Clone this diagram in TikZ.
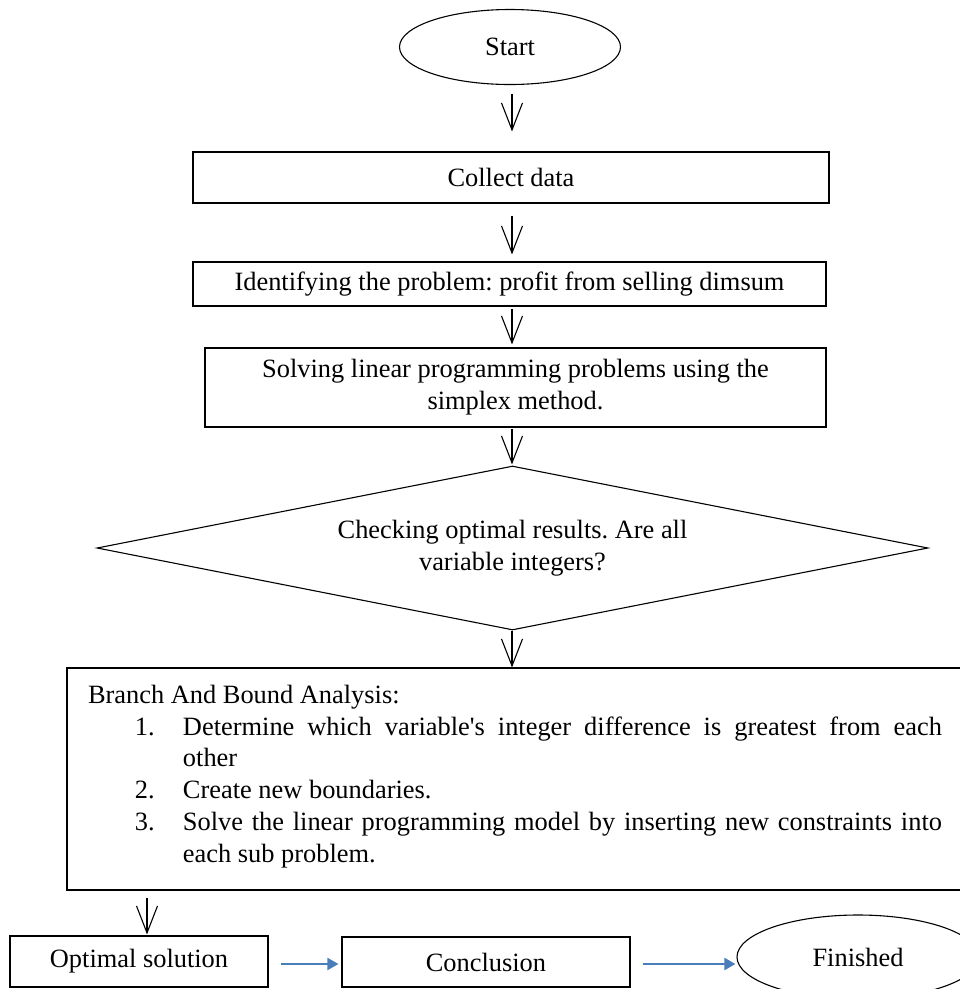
\documentclass[tikz,border=0pt]{standalone}
\usepackage{fontspec}
\setmainfont{Liberation Serif}
\usetikzlibrary{arrows.meta,shapes.geometric}
\definecolor{arrblue}{RGB}{74,126,187}
\frenchspacing
\tikzset{
  base/.style={draw=black, line width=1.1pt, inner sep=0pt,
    font=\fontsize{26.4}{31.8}\selectfont\frenchspacing},
  box/.style={base, rectangle},
  ellip/.style={base, ellipse},
  decision/.style={base, diamond, shape aspect=5.07, align=center},
  arr/.style={draw=black, line width=1.1pt, -{Straight Barb[length=27pt,width=21pt]}},
  barr/.style={draw=arrblue, line width=2pt, -{Triangle[length=11pt,width=12pt]}}
}
\begin{document}
\begin{tikzpicture}[x=1pt,y=-1pt]
\useasboundingbox (0,0) rectangle (960,989);
\coordinate (ax) at (512,0);
\coordinate (bx) at (147,0);
\coordinate (by) at (0,964);

\node[ellip, minimum width=221pt, minimum height=75pt] (start) at (510,47) {Start};
\node[box, minimum width=636pt, minimum height=51pt] (collect) at (511,177.5) {Collect data};
\node[box, minimum width=633pt, minimum height=44pt] (ident) at (509.5,284) {Identifying the problem: profit from selling dimsum};
\node[box, minimum width=621pt, minimum height=79pt, align=center] (solve) at (515.5,387.5) {Solving linear programming problems using the\\simplex method.};
\node[decision, minimum width=831pt, minimum height=164pt] (dec) at (512.5,548) {Checking optimal results. Are all\\variable integers?};
\node[box, minimum width=933pt, minimum height=222pt] (bb) at (533.5,779) {%
\begin{minipage}[c]{854pt}
\fontsize{26.4}{31.8}\selectfont\frenchspacing
\noindent Branch And Bound Analysis:\par
\noindent\hangindent=95pt\hangafter=1\hspace*{47pt}\makebox[48pt][l]{1.}Determine which variable\textquotesingle s integer difference is greatest from each\linebreak other\par
\noindent\hangindent=95pt\hangafter=1\hspace*{47pt}\makebox[48pt][l]{2.}Create new boundaries.\par
\noindent\hangindent=95pt\hangafter=1\hspace*{47pt}\makebox[48pt][l]{3.}Solve the linear programming model by inserting new constraints into\linebreak each sub problem.\par
\vspace*{5pt}
\end{minipage}\hspace*{37pt}};
\coordinate (bbout) at (bb.south -| bx);

\node[box, minimum width=258pt, minimum height=51pt] (opt) at (139,961.5) {Optimal solution};
\node[box, minimum width=288pt, minimum height=50pt] (conc) at (486,962) {Conclusion};
\node[ellip, minimum width=242pt, minimum height=84pt] (fin) at (858,957) {Finished};

\draw[arr, shorten <=8.5pt, shorten >=20pt] (start.south -| ax) -- (collect.north -| ax);
\draw[arr, shorten <=12pt, shorten >=7pt] (collect.south -| ax) -- (ident.north -| ax);
\draw[arr, shorten <=2pt, shorten >=3pt] (ident.south -| ax) -- (solve.north -| ax);
\draw[arr, shorten <=1pt, shorten >=1pt] (solve.south -| ax) -- (dec.north -| ax);
\draw[arr] (dec.south -| ax) -- (bb.north -| ax);
\draw[arr, shorten <=7pt, shorten >=1pt] (bbout) -- (opt.north -| bx);
\draw[barr, shorten <=12pt, shorten >=3pt] (opt.east |- by) -- (conc.west |- by);
\draw[barr, shorten <=12pt, shorten >=1pt] (conc.east |- by) -- (fin.west |- by);
\end{tikzpicture}
\end{document}
